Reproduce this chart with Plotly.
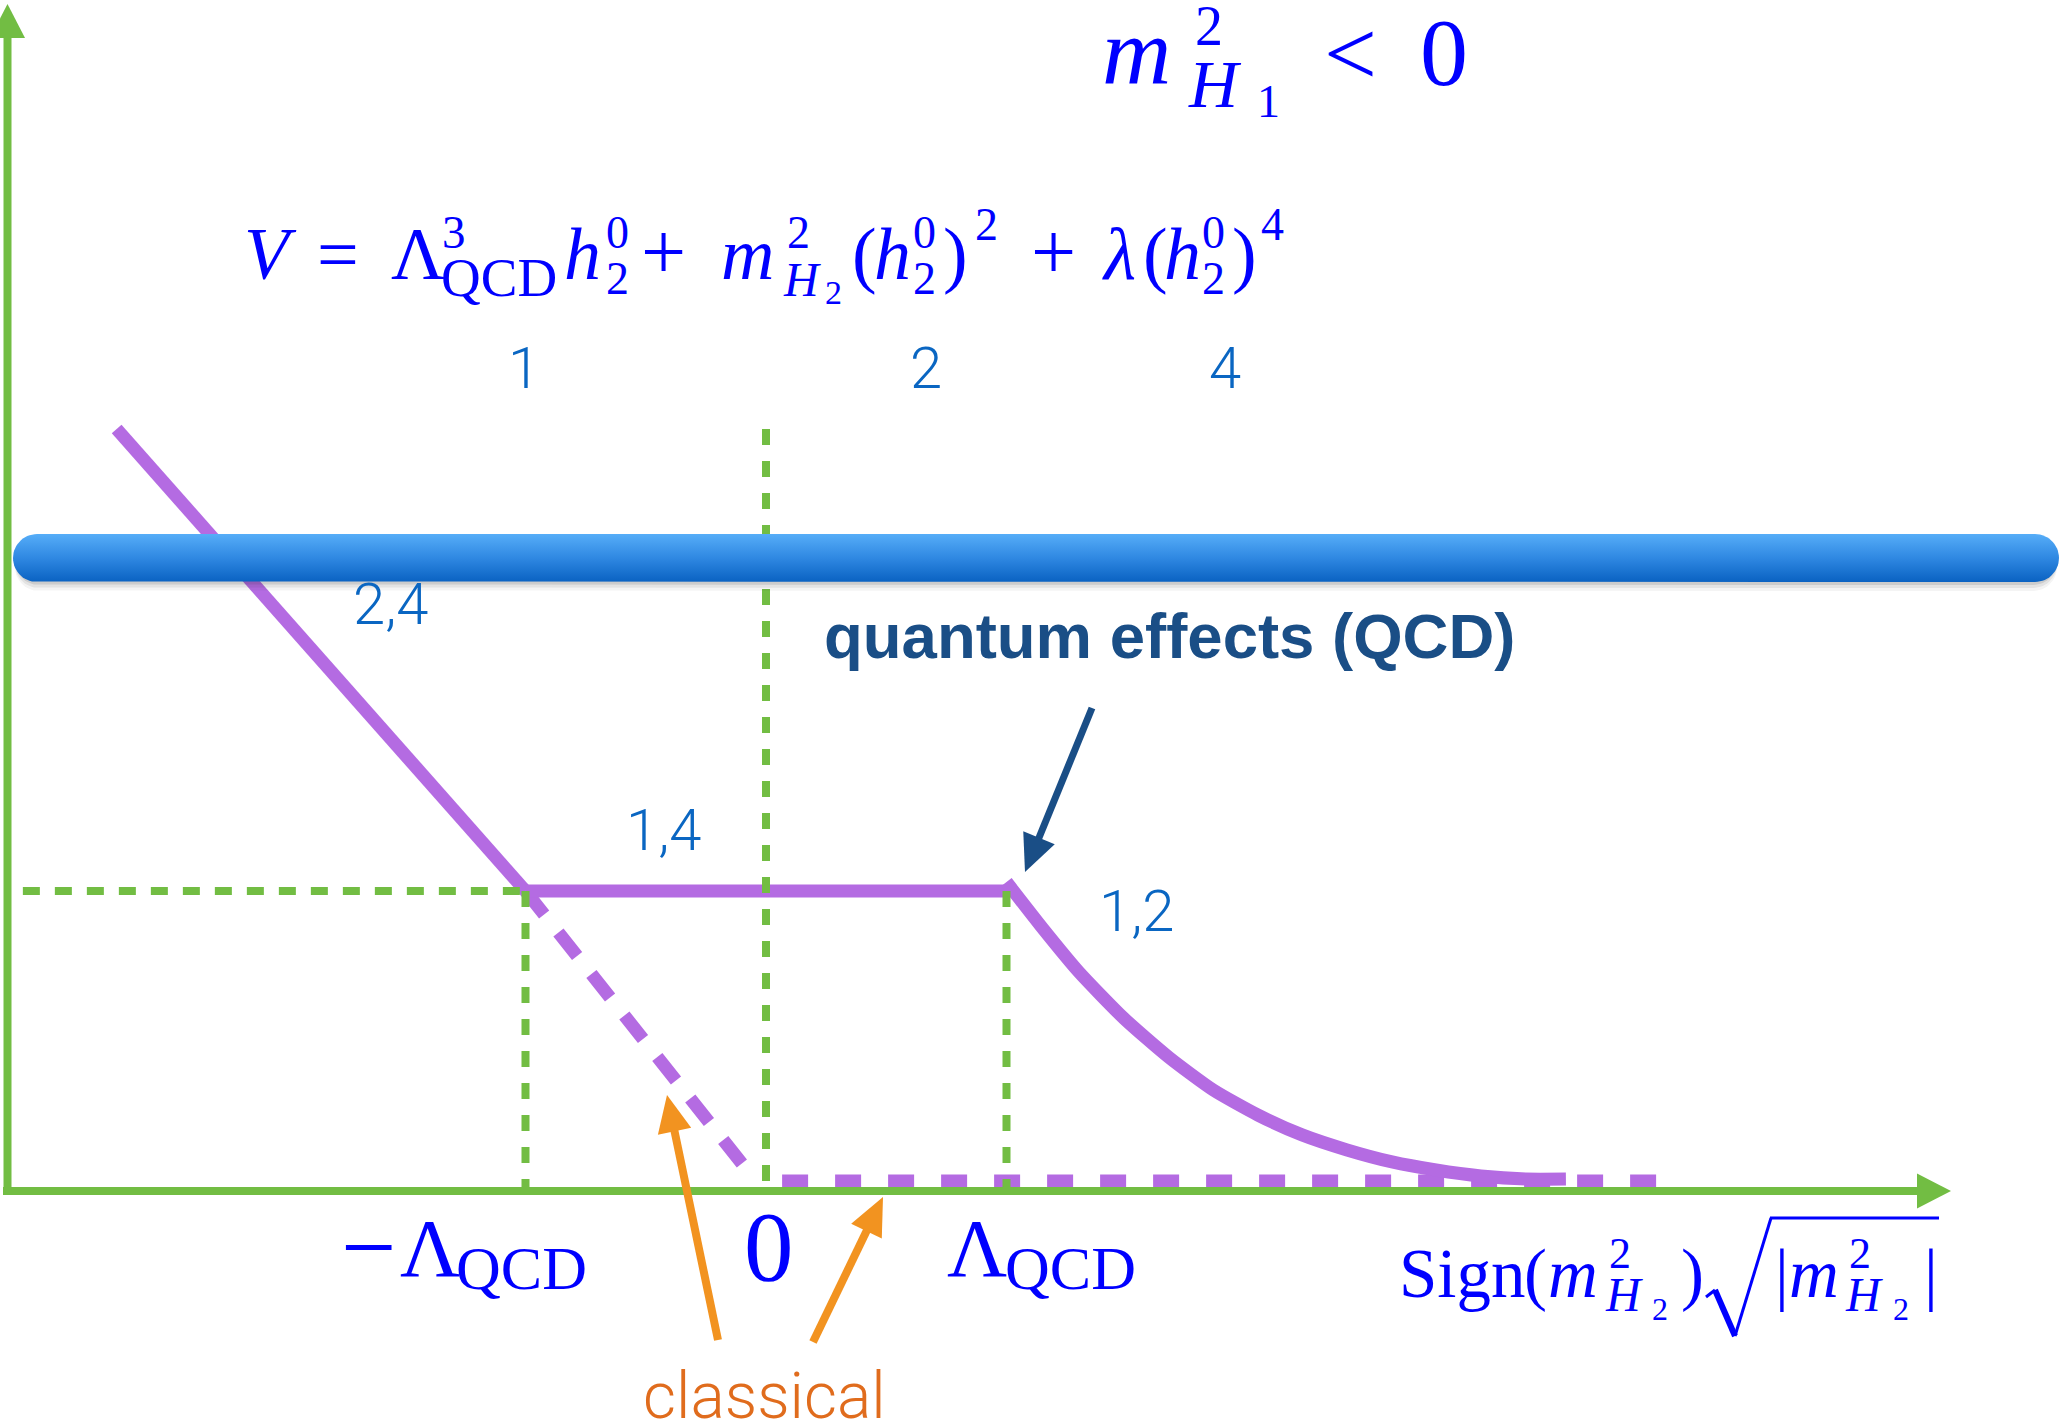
import math
import plotly.graph_objects as go

W, H = 2063, 1422

# ---------------------------------------------------------------------------
# Potential sketch values: x in units of Lambda_QCD, V in units of the plateau
# ---------------------------------------------------------------------------
tick_x = [-1.0, 0.0, 1.0]

steep_x = [-2.70, -1.0]            # solid branch for m^2 < -Lambda^2
steep_v = [2.54, 1.0]

plateau_x = [-1.0, 1.0]            # QCD plateau between -Lambda and +Lambda
plateau_v = [1.0, 1.0]

decay_x = [1.0, 1.156, 1.301, 1.489, 1.676, 1.859, 2.046, 2.229, 2.416,
           2.603, 2.786, 2.973, 3.16, 3.326]
decay_v = [1.03, 0.87, 0.73, 0.575, 0.445, 0.337, 0.253, 0.187, 0.137,
           0.097, 0.07, 0.05, 0.04, 0.04]

classical_x = [-1.0, -0.079]       # classical continuation (dashed)
classical_v = [1.0, 0.07]

zero_x = [0.067, 3.717]            # classical V = 0 for m^2 > 0 (dotted)
zero_v = [0.033, 0.033]

guide_top_v = [1.0, 2.54, 1.0]     # heights of the vertical guides at tick_x
guide_left_x = -3.09               # left end of the horizontal guide at V = 1

# ---------------------------------------------------------------------------
# pixel frame of the drawing
# ---------------------------------------------------------------------------
X0_PX, UX_PX = 766.0, 240.5
Y0_PX, UY_PX = 1191.0, 300.0


def dx(p):
    return (p - X0_PX) / UX_PX


def dy(p):
    return (Y0_PX - p) / UY_PX


PURPLE = "#b46be2"
GREEN = "#72bd43"
MATH = "#0000ff"
NUM = "#0a66c2"
ORANGE = "#f29320"
ORANGE_TXT = "#e06c1d"
NAVY = "#1a4e86"
SERIF = "Liberation Serif"
SANS = "Liberation Sans"
LIGHT = "Roboto"

fig = go.Figure()


def add_line(xs, vs, width, color, dash="solid", shape="linear"):
    line = dict(color=color, width=width, dash=dash, shape=shape)
    if shape == "spline":
        line["smoothing"] = 0.6
    fig.add_trace(go.Scatter(x=xs, y=vs, mode="lines", line=line,
                             hoverinfo="skip", showlegend=False))


# purple potential branches
add_line(zero_x, zero_v, 13, PURPLE, dash="26px,27px")
add_line(classical_x, classical_v, 13, PURPLE, dash="30px,23px")
add_line(steep_x, steep_v, 13, PURPLE)
add_line(plateau_x, plateau_v, 13, PURPLE)
add_line(decay_x, decay_v, 13, PURPLE, shape="spline")

# green guide lines
for gx, top in zip(tick_x, guide_top_v):
    add_line([gx, gx], [top, 0.0], 8, GREEN, dash="16px,16px")
add_line([guide_left_x, tick_x[0]], [plateau_v[0], plateau_v[0]], 8, GREEN,
         dash="17px,15px")


# rounded blue band with a soft shadow
def pill(left, top, right, bottom, n=30):
    r = (bottom - top) / 2.0
    cy = (top + bottom) / 2.0
    xs, ys = [], []
    for i in range(n + 1):
        a = -math.pi / 2 + math.pi * i / n
        xs.append(right - r + r * math.cos(a))
        ys.append(cy + r * math.sin(a))
    for i in range(n + 1):
        a = math.pi / 2 + math.pi * i / n
        xs.append(left + r + r * math.cos(a))
        ys.append(cy + r * math.sin(a))
    xs.append(xs[0])
    ys.append(ys[0])
    return [dx(p) for p in xs], [dy(p) for p in ys]


BAR = (13, 534, 2059, 582)
for off, alpha in [(9, 0.05), (6, 0.08), (3, 0.12)]:
    sx, sy = pill(BAR[0] + 2, BAR[1] + off, BAR[2] - 2, BAR[3] + off)
    fig.add_trace(go.Scatter(x=sx, y=sy, mode="lines", fill="toself",
                             fillcolor=f"rgba(40,40,40,{alpha})",
                             line=dict(width=0), hoverinfo="skip",
                             showlegend=False))
bx, by = pill(*BAR)
fig.add_trace(go.Scatter(
    x=bx, y=by, mode="lines", fill="toself", line=dict(width=0),
    fillgradient=dict(type="vertical", start=dy(BAR[3]), stop=dy(BAR[1]),
                      colorscale=[[0, "#0a62c2"], [0.5, "#2f88e2"],
                                  [1, "#56adf8"]]),
    hoverinfo="skip", showlegend=False))

# ---------------------------------------------------------------------------
# shapes: axes with arrow heads, pointer arrows, radical sign
# ---------------------------------------------------------------------------
shapes = []


def tri(p1, p2, p3, color):
    path = "M{},{} L{},{} L{},{} Z".format(dx(p1[0]), dy(p1[1]), dx(p2[0]),
                                          dy(p2[1]), dx(p3[0]), dy(p3[1]))
    shapes.append(dict(type="path", path=path, fillcolor=color,
                       line=dict(width=0)))


def seg(p1, p2, color, width):
    shapes.append(dict(type="line", x0=dx(p1[0]), y0=dy(p1[1]),
                       x1=dx(p2[0]), y1=dy(p2[1]),
                       line=dict(color=color, width=width)))


def arrow(tail, tip, color, width, head_len, head_w):
    L = math.hypot(tip[0] - tail[0], tip[1] - tail[1])
    ux, uy = (tip[0] - tail[0]) / L, (tip[1] - tail[1]) / L
    bx_, by_ = tip[0] - ux * head_len, tip[1] - uy * head_len
    nx, ny = -uy, ux
    seg(tail, (bx_ + ux * 3, by_ + uy * 3), color, width)
    tri(tip, (bx_ + nx * head_w / 2, by_ + ny * head_w / 2),
        (bx_ - nx * head_w / 2, by_ - ny * head_w / 2), color)


# axes
seg((3, Y0_PX), (1919, Y0_PX), GREEN, 8)
tri((1951, Y0_PX), (1917, Y0_PX - 17.5), (1917, Y0_PX + 17.5), GREEN)
seg((7.5, 1195), (7.5, 36), GREEN, 8)
tri((7.5, 4), (-10, 38), (25, 38), GREEN)

# pointers
arrow((718, 1340), (667, 1095), ORANGE, 8, 37, 34)
arrow((813, 1342), (883, 1197), ORANGE, 8, 38, 34)
arrow((1092, 708), (1025, 872), NAVY, 7, 37, 34)

# radical of sqrt(|m^2|)
seg((1706, 1297), (1715, 1290), MATH, 3)
seg((1715, 1290), (1735, 1336), MATH, 6)
seg((1735, 1336), (1771, 1218), MATH, 3)
seg((1770, 1218), (1939, 1218), MATH, 3)

# ---------------------------------------------------------------------------
# text
# ---------------------------------------------------------------------------
annotations = []


def label(text, x, base, size, color=MATH, family=SERIF, anchor="left",
          weight=None):
    font = dict(family=family, size=size, color=color)
    if weight is not None:
        font["weight"] = weight
    annotations.append(dict(
        text=text, x=x / W, y=1 - (base - 0.34 * size) / H,
        xref="paper", yref="paper", xanchor=anchor, yanchor="middle",
        showarrow=False, font=font, borderpad=0))


# m_{H1}^2 < 0
label("<i>m</i>", 1101, 84, 96)
label("2", 1194, 45, 56)
label("<i>H</i>", 1187, 107, 68)
label("1", 1256, 117, 46)
label("<", 1323, 85, 94)
label("0", 1419, 85, 96)

# V = Lambda^3 h + m^2 h^2 + lambda h^4
FB, FS, SUPB, SUBB, SUP2B = 279, 74, 248, 294, 240
label("<i>V</i>", 243, FB, FS)
label("=", 316, FB, FS)
label("Λ", 390, FB, FS)
label("3", 441, SUPB, 47)
label("QCD", 440, SUBB + 2, 55)
label("<i>h</i>", 563, FB, FS)
label("0", 605, SUPB, 46)
label("2", 605, SUBB, 46)
label("+", 640, FB, 80)
label("<i>m</i>", 720, FB, FS)
label("2", 786, SUPB, 46)
label("<i>H</i>", 782, SUBB + 2, 48)
label("2", 824, 304, 34)
label("(", 851, FB, FS)
label("<i>h</i>", 873, FB, FS)
label("0", 912, SUPB, 46)
label("2", 912, SUBB, 46)
label(")", 942, FB, FS)
label("2", 974, SUP2B, 46)
label("+", 1030, FB, 80)
label("<i>λ</i>", 1101, FB, FS)
label("(", 1142, FB, FS)
label("<i>h</i>", 1163, FB, FS)
label("0", 1201, SUPB, 46)
label("2", 1201, SUBB, 46)
label(")", 1231, FB, FS)
label("4", 1260, SUP2B, 46)

# exponent labels
label("1", 524, 388, 58, NUM, LIGHT, "center", 300)
label("2", 926, 388, 58, NUM, LIGHT, "center", 300)
label("4", 1225, 388, 58, NUM, LIGHT, "center", 300)
label("2,4", 352, 624, 58, NUM, LIGHT, "left", 300)
label("1,4", 625, 850, 58, NUM, LIGHT, "left", 300)
label("1,2", 1098, 931, 58, NUM, LIGHT, "left", 300)

label("quantum effects (QCD)", 1169, 658, 63.5, NAVY, SANS, "center", 700)
label("classical", 764, 1418, 64, ORANGE_TXT, LIGHT, "center", 300)

# tick labels on the horizontal axis
label("−", 340, 1280, 98)
label("Λ", 399, 1276, 83)
label("QCD", 455, 1289, 62)
label("0", 743, 1280, 99)
label("Λ", 946, 1276, 83)
label("QCD", 1004, 1289, 62)

# Sign(m^2) sqrt(|m^2|)
SB = 1297
label("Sign", 1398, SB, 69)
label("(", 1523, SB, 69)
label("<i>m</i>", 1547, SB, 69)
label("2", 1608, 1268, 44)
label("<i>H</i>", 1604, 1311, 48)
label("2", 1651, 1320, 32)
label(")", 1680, SB, 69)
label("|", 1774, SB, 69)
label("<i>m</i>", 1788, SB, 69)
label("2", 1848, 1268, 44)
label("<i>H</i>", 1844, 1311, 48)
label("2", 1892, 1320, 32)
label("|", 1923, SB, 69)

fig.update_layout(
    width=W, height=H,
    margin=dict(l=0, r=0, t=0, b=0, pad=0),
    paper_bgcolor="white", plot_bgcolor="white",
    xaxis=dict(range=[dx(0), dx(W)], visible=False, fixedrange=True),
    yaxis=dict(range=[dy(H), dy(0)], visible=False, fixedrange=True),
    showlegend=False,
    shapes=shapes,
    annotations=annotations,
)

fig.write_html("out.html", config={"displayModeBar": False},
               post_script="document.body.style.margin='0';")
